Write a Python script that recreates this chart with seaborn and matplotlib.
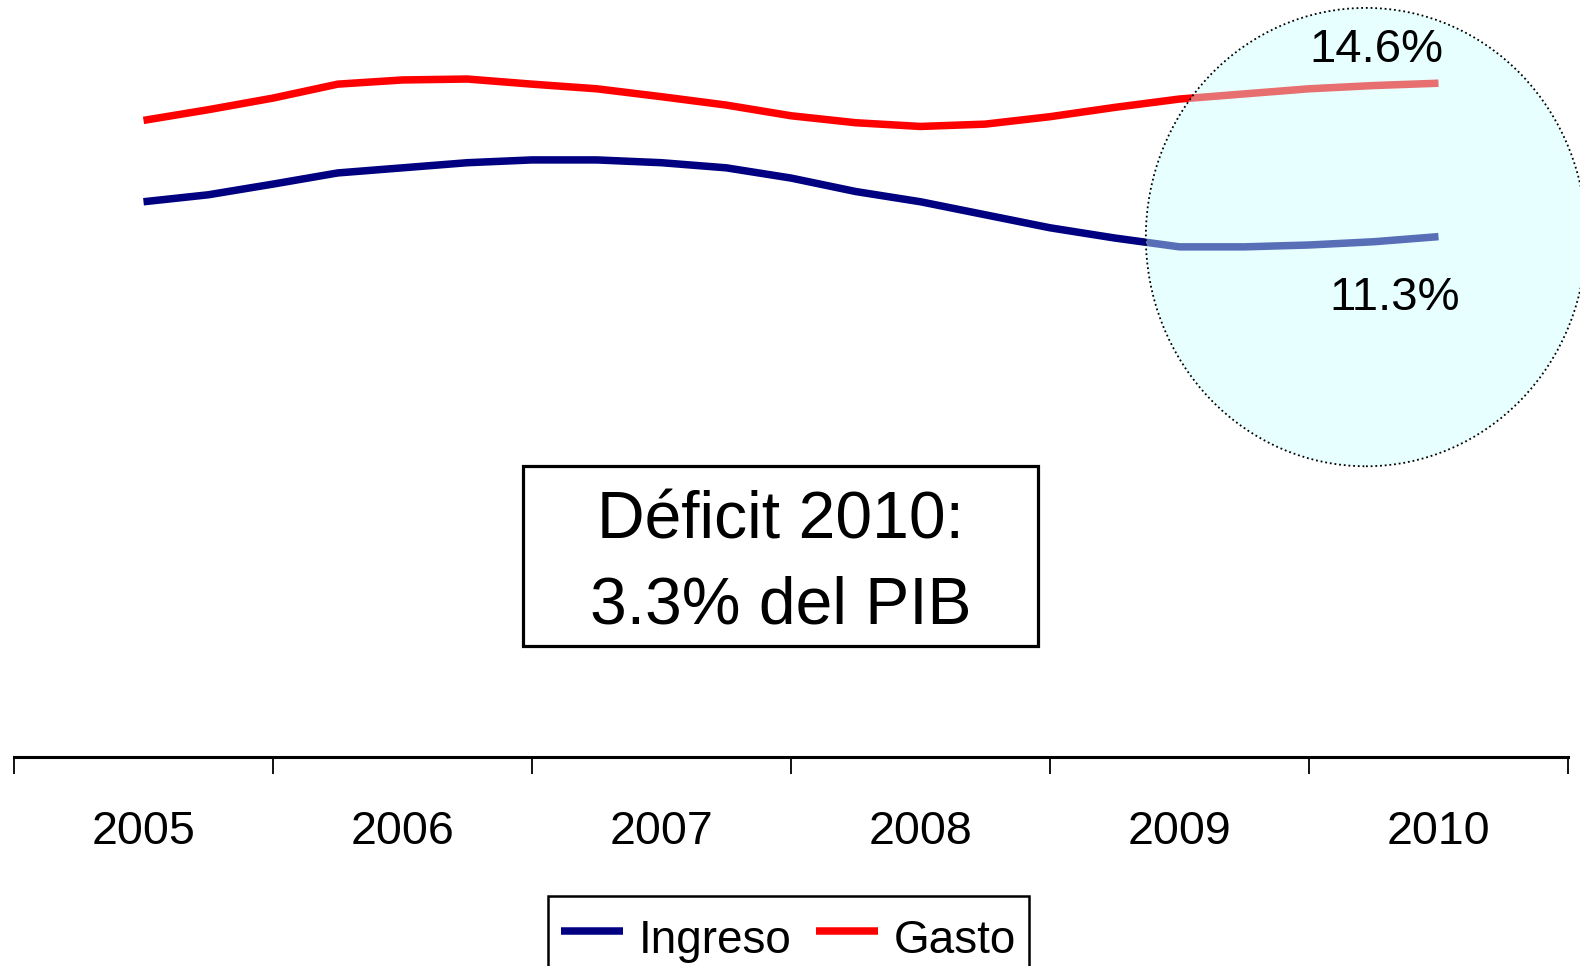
import numpy as np
import pandas as pd
import matplotlib
matplotlib.use("Agg")
import matplotlib.pyplot as plt
import seaborn as sns
from matplotlib.patches import Ellipse, Rectangle

# quarterly values, % del PIB
ingreso = [12.05, 12.20, 12.43, 12.67, 12.78, 12.89, 12.95, 12.95, 12.89, 12.78, 12.56,
           12.27, 12.05, 11.77, 11.49, 11.27, 11.08, 11.08, 11.12, 11.19, 11.30]
gasto = [13.80, 14.03, 14.28, 14.58, 14.67, 14.69, 14.58, 14.48, 14.31, 14.13, 13.90,
         13.75, 13.67, 13.72, 13.88, 14.08, 14.26, 14.37, 14.48, 14.55, 14.60]
years = [2005, 2006, 2007, 2008, 2009, 2010]
series = ["Ingreso", "Gasto"]
colors = {"Ingreso": "#000080", "Gasto": "#FF0000"}

t = years[0] + np.arange(len(ingreso)) / 4
df = pd.concat([
    pd.DataFrame({"t": t, "valor": ingreso, "serie": "Ingreso"}),
    pd.DataFrame({"t": t, "valor": gasto, "serie": "Gasto"}),
])

sns.set_style("white")
plt.rcParams["font.family"] = ["Liberation Sans", "DejaVu Sans"]
plt.rcParams["text.color"] = "black"
plt.rcParams["xtick.color"] = "black"
plt.rcParams["xtick.labelcolor"] = "black"
plt.rcParams["lines.solid_capstyle"] = "butt"

fig = plt.figure(figsize=(15.8, 9.66), dpi=100)
ax = fig.add_axes([14 / 1580, 1 - 757.3 / 966, (1568 - 14) / 1580, 757.3 / 966])

sns.lineplot(data=df, x="t", y="valor", hue="serie", hue_order=series,
             palette=colors, linewidth=5.4, ax=ax)

ax.set_xlim(years[0] - 0.5, years[-1] + 0.5)
ax.set_ylim(0.1, 16.39)
ax.set_xlabel("")
ax.set_ylabel("")
ax.set_yticks([])

# year boundaries as ticks, labels centred on each year
ax.set_xticks(np.arange(years[0] - 0.5, years[-1] + 1), [])
ax.set_xticks(years, [str(y) for y in years], minor=True)
ax.tick_params(axis="x", which="major", direction="out", length=12, width=1.3,
               color="black", bottom=True)
ax.tick_params(axis="x", which="minor", length=0, pad=38, labelsize=33.5)

for s in ["top", "left", "right"]:
    ax.spines[s].set_visible(False)
ax.spines["bottom"].set_linewidth(2.2)
ax.spines["bottom"].set_color("black")

# projection highlight
ell = Ellipse((2009.72, 11.29), 1.70, 9.86, facecolor=(0.79, 1.0, 1.0, 0.44),
              edgecolor="black", linestyle=(0, (1, 1.6)), linewidth=1.3,
              clip_on=False, zorder=3)
ax.add_patch(ell)

ax.text(2009.76, 15.31, "14.6%", ha="center", va="center", fontsize=34, zorder=5)
ax.text(2009.83, 9.99, "11.3%", ha="center", va="center", fontsize=34, zorder=5)

# deficit box
fig.patches.append(Rectangle((523 / 1580, 1 - 646 / 966), 515 / 1580, 180.5 / 966,
                             transform=fig.transFigure, facecolor="white",
                             edgecolor="black", linewidth=2.3, zorder=4))
fig.text(780.5 / 1580, 1 - 564 / 966, "Déficit 2010:\n3.3% del PIB", ha="center",
         va="center", fontsize=47.5, multialignment="center", linespacing=1.47, zorder=5)

sns.move_legend(ax, "upper center", bbox_to_anchor=(788.5 / 1580, 1 - 896 / 966),
                bbox_transform=fig.transFigure, ncol=2, title=None, frameon=True,
                fancybox=False, edgecolor="black", fontsize=33, handlelength=1.35,
                handleheight=1.5, handletextpad=0.33, columnspacing=0.55,
                borderpad=0.3, borderaxespad=0)
leg = ax.get_legend()
leg.get_frame().set_linewidth(1.8)
leg.get_frame().set_alpha(1)

fig.savefig("out.png", dpi=100)
